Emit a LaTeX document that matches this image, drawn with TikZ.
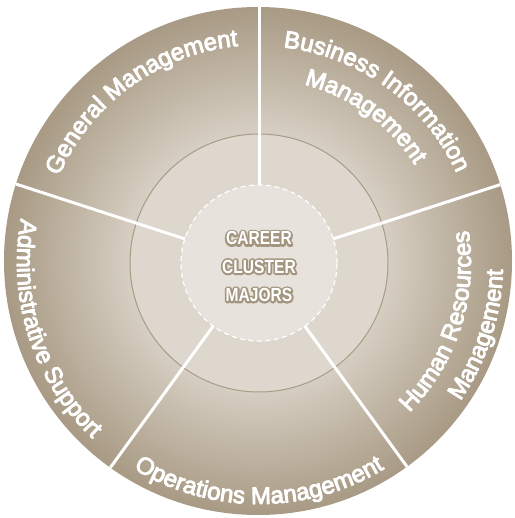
\documentclass[tikz,border=0pt]{standalone}
\usepackage{fontspec}
\usetikzlibrary{decorations.text}
\newfontfamily\ringfont{Liberation Sans}
\newfontfamily\corefont{Liberation Sans}[FakeStretch=0.82]
\definecolor{rdark}{HTML}{A89A84}
\definecolor{rlight}{HTML}{D6CEC2}
\definecolor{midfill}{HTML}{DDD7CD}
\definecolor{corefill}{HTML}{E7E2DB}
\definecolor{rimline}{HTML}{A89C88}
\definecolor{halo}{HTML}{A39680}
\pgfdeclareradialshading{ringshade}{\pgfpoint{0bp}{0bp}}{color(0bp)=(rlight); color(12.8bp)=(rlight); color(25bp)=(rdark); color(50bp)=(rdark)}
\newcommand\ringstyle{\ringfont\fontsize{24}{28}\selectfont\color{white}}
\makeatletter
\newcommand\strokemode{\pgfsys@invoke{ 2 Tr }}
\newcommand\fillmode{\pgfsys@invoke{ 0 Tr }}
\makeatother
\begin{document}
\begin{tikzpicture}[x=1pt,y=1pt,
  divider/.style={draw=white, line width=3pt},
  ringtext/.style={decorate, decoration={text along path, text align=center, text={|\ringstyle|#1}}},
  coretext/.style={align=center, inner sep=0pt, font=\corefont\bfseries\fontsize{19}{28.3}\selectfont}
]
\useasboundingbox (-259,-255) rectangle (255,263);
% outer disc
\node[circle, shading=ringshade, shade, minimum size=508pt, inner sep=0pt, outer sep=0pt] (disc) at (-1,2) {};
% middle ring
\node[circle, fill=midfill, draw=rimline, line width=1pt, minimum size=258pt, inner sep=0pt, outer sep=0pt] (mid) at (0,0) {};
% core
\node[circle, fill=corefill, draw=white, line width=1.2pt, dash pattern=on 5pt off 3.5pt, minimum size=156pt, inner sep=0pt, outer sep=0pt] (core) at (0,0) {};
% dividers
\begin{scope}
\clip (-1,2) circle[radius=254];
\foreach \a [count=\i] in {90,18,-54,-126,162} {
  \coordinate (e\i) at (\a:270);
  \draw[divider] (core.\a) -- (e\i);
}
\end{scope}
% ring texts (slightly emboldened by a thin white stroke)
\begin{scope}[line width=0.9pt, line join=round]
\strokemode
\path[ringtext={General Management}] (162:218) arc[start angle=162, end angle=90, radius=218];
\path[ringtext={Business Information}] (90:217) arc[start angle=90, end angle=18, radius=217];
\path[ringtext={Management}] (90:184) arc[start angle=90, end angle=18, radius=184];
\path[ringtext={Human Resources}] (-54:212) arc[start angle=-54, end angle=18, radius=212];
\path[ringtext={Management}] (-54:244) arc[start angle=-54, end angle=18, radius=244];
\path[ringtext={Operations Management}] (-126:241) arc[start angle=-126, end angle=-54, radius=241];
\path[ringtext={Administrative Support}] (162:242) arc[start angle=162, end angle=234, radius=242];
\fillmode
\end{scope}
% centre title with outline
\begin{scope}[line width=3.8pt, line join=round, line cap=round]
\strokemode
\node[coretext, text=halo] (halo) at (0,-3.7) {CAREER\\CLUSTER\\MAJORS};
\fillmode
\end{scope}
\node[coretext, text=white] (title) at (0,-3.7) {CAREER\\CLUSTER\\MAJORS};
\end{tikzpicture}
\end{document}
